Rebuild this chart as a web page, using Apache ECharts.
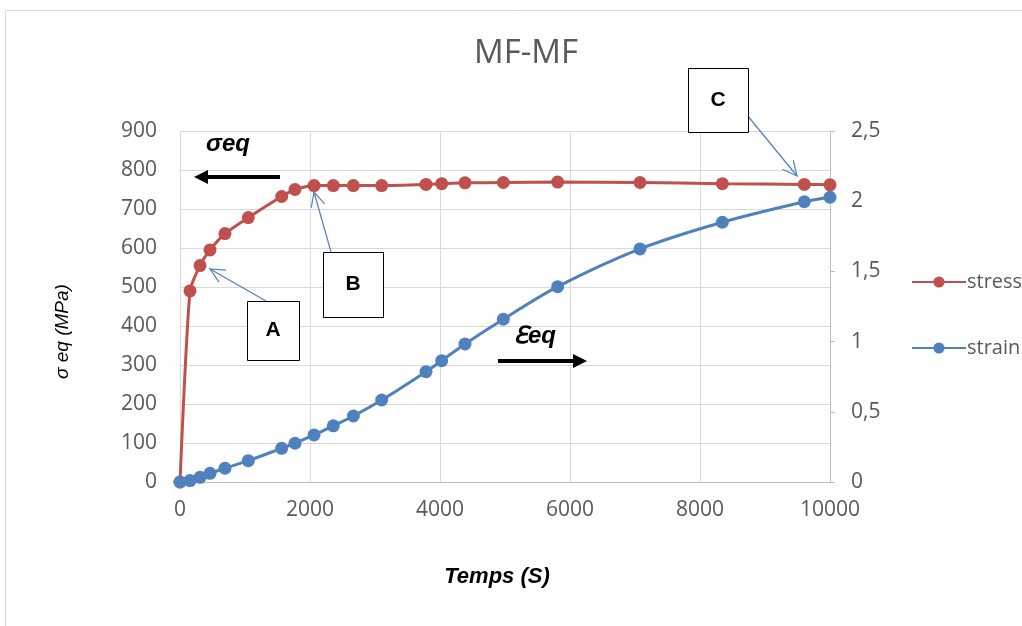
<!DOCTYPE html>
<html><head><meta charset="utf-8">
<script src="https://cdn.jsdelivr.net/npm/echarts@6/dist/echarts.min.js"></script>
<style>html,body{margin:0;padding:0;background:#fff}#c{width:1022px;height:626px}</style>
</head><body><div id="c"></div>
<script>
const timeS  = [0,154,308,462,692,1051,1564,1769,2062,2359,2667,3103,3785,4026,4385,4974,5810,7077,8344,9605,10000];
const stress = [0,490,555,595,637,678,732,750,760,760,760,760,763,765,767,768,769,768,765,763,762];
const strain = [0,0.01,0.033,0.062,0.098,0.152,0.24,0.276,0.335,0.40,0.47,0.584,0.786,0.864,0.983,1.159,1.391,1.66,1.85,1.996,2.028];
const seriesNames = ['stress','strain'];
const FONT = 'Open Sans';
const red = '#C0504D', blue = '#4F81BD', grey = '#595959';

const chart = echarts.init(document.getElementById('c'), null, {renderer:'canvas'});
function arrowHead(tipX, tipY, dir, len, half, fill){
  return {type:'polygon', shape:{points:[[tipX,tipY],[tipX-dir*len,tipY-half],[tipX-dir*len,tipY+half]]}, style:{fill:fill}, z:50};
}
function openHead(x1,y1,x2,y2,len){
  const a = Math.atan2(y2-y1,x2-x1), s=0.45;
  return {type:'polyline', shape:{points:[[x2-len*Math.cos(a-s),y2-len*Math.sin(a-s)],[x2,y2],[x2-len*Math.cos(a+s),y2-len*Math.sin(a+s)]]}, style:{stroke:blue,lineWidth:1.2,fill:null}, z:50};
}
function box(x,y,w,h,t){
  return [{type:'rect', shape:{x:x+0.5,y:y+0.5,width:w,height:h}, style:{fill:'#fff',stroke:'#000',lineWidth:1}, z:60},
          {type:'text', x:x+w/2, y:y+h/2, style:{text:t, font:'bold 21px "Liberation Sans"', fill:'#000', align:'center', verticalAlign:'middle'}, z:70}];
}
const graphics = [
  {type:'rect', shape:{x:5.5,y:10.5,width:1030,height:640}, style:{fill:null, stroke:'#D9D9D9', lineWidth:1}, z:-10},
  {type:'text', x:206, y:144, style:{text:'σeq', font:'italic bold 24px "Liberation Sans"', fill:'#000', verticalAlign:'middle'}, z:50},
  {type:'line', shape:{x1:280,y1:177,x2:205,y2:177}, style:{stroke:'#000', lineWidth:4}, z:50},
  arrowHead(194,177,-1,14,7,'#000'),
  {type:'text', x:514, y:336, style:{text:'ℇeq', font:'italic bold 24px "Liberation Sans"', fill:'#000', verticalAlign:'middle'}, z:50},
  {type:'line', shape:{x1:498,y1:361,x2:576,y2:361}, style:{stroke:'#000', lineWidth:4}, z:50},
  arrowHead(587,361,1,14,7,'#000'),
  {type:'line', shape:{x1:266,y1:301,x2:210,y2:269}, style:{stroke:blue,lineWidth:1.2}, z:50},
  openHead(266,301,210,269,16),
  {type:'line', shape:{x1:331,y1:252,x2:314,y2:192}, style:{stroke:blue,lineWidth:1.2}, z:50},
  openHead(331,252,314,192,16),
  {type:'line', shape:{x1:747,y1:115,x2:797,y2:176}, style:{stroke:blue,lineWidth:1.2}, z:50},
  openHead(747,115,797,176,16)
].concat(box(247,301,52,59,'A'), box(323,252,60,65,'B'), box(688,68,60,64,'C'));

chart.setOption({
  animation:false,
  backgroundColor:'#fff',
  textStyle:{fontFamily:FONT},
  title:{text:'MF-MF', left:521, top:32, textAlign:'center', textStyle:{fontFamily:FONT, fontSize:33, fontWeight:'normal', color:grey}},
  legend:{orient:'vertical', left:906, top:267, itemGap:46, itemWidth:54, itemHeight:14,
    data:seriesNames, textStyle:{fontFamily:FONT, fontSize:20, color:grey, padding:[0,0,0,-4]}},
  grid:{left:180, right:192, top:131, bottom:144, containLabel:false},
  xAxis:{type:'value', min:0, max:10000, interval:2000,
    name:'Temps (S)', nameLocation:'middle', nameGap:84,
    nameTextStyle:{fontFamily:'Liberation Sans', fontSize:22, fontStyle:'italic', fontWeight:'bold', color:'#000', padding:[0,16,0,0]},
    axisLine:{show:true, lineStyle:{color:'#BFBFBF'}}, axisTick:{show:false},
    axisLabel:{fontSize:21, color:grey, margin:18, formatter:v=>String(v)},
    splitLine:{show:true, lineStyle:{color:'#D9D9D9'}}},
  yAxis:[
    {type:'value', min:0, max:900, interval:100,
     name:'σ eq (MPa)', nameLocation:'middle', nameGap:108, nameRotate:90,
     nameTextStyle:{fontFamily:'Liberation Sans', fontSize:19, fontStyle:'italic', color:'#000', padding:[0,50,0,0]},
     axisLine:{show:false}, axisTick:{show:false},
     axisLabel:{fontSize:21, color:grey, margin:23, formatter:v=>String(v)},
     splitLine:{show:true, lineStyle:{color:'#D9D9D9'}}},
    {type:'value', min:0, max:2.5, interval:0.5, position:'right',
     axisLine:{show:true, lineStyle:{color:'#BFBFBF'}},
     axisTick:{show:true, inside:false, length:5, lineStyle:{color:'#BFBFBF'}},
     axisLabel:{fontSize:21, color:grey, margin:21, formatter:v=>String(v).replace('.',',')},
     splitLine:{show:false}}
  ],
  series:[
    {name:seriesNames[0], type:'line', yAxisIndex:0, smooth:0.2,
     data:timeS.map((t,i)=>[t,stress[i]]), symbol:'circle', symbolSize:13,
     lineStyle:{color:red,width:3}, itemStyle:{color:red}},
    {name:seriesNames[1], type:'line', yAxisIndex:1, smooth:0.3,
     data:timeS.map((t,i)=>[t,strain[i]]), symbol:'circle', symbolSize:13,
     lineStyle:{color:blue,width:3}, itemStyle:{color:blue}}
  ],
  graphic:graphics
});
</script></body></html>
